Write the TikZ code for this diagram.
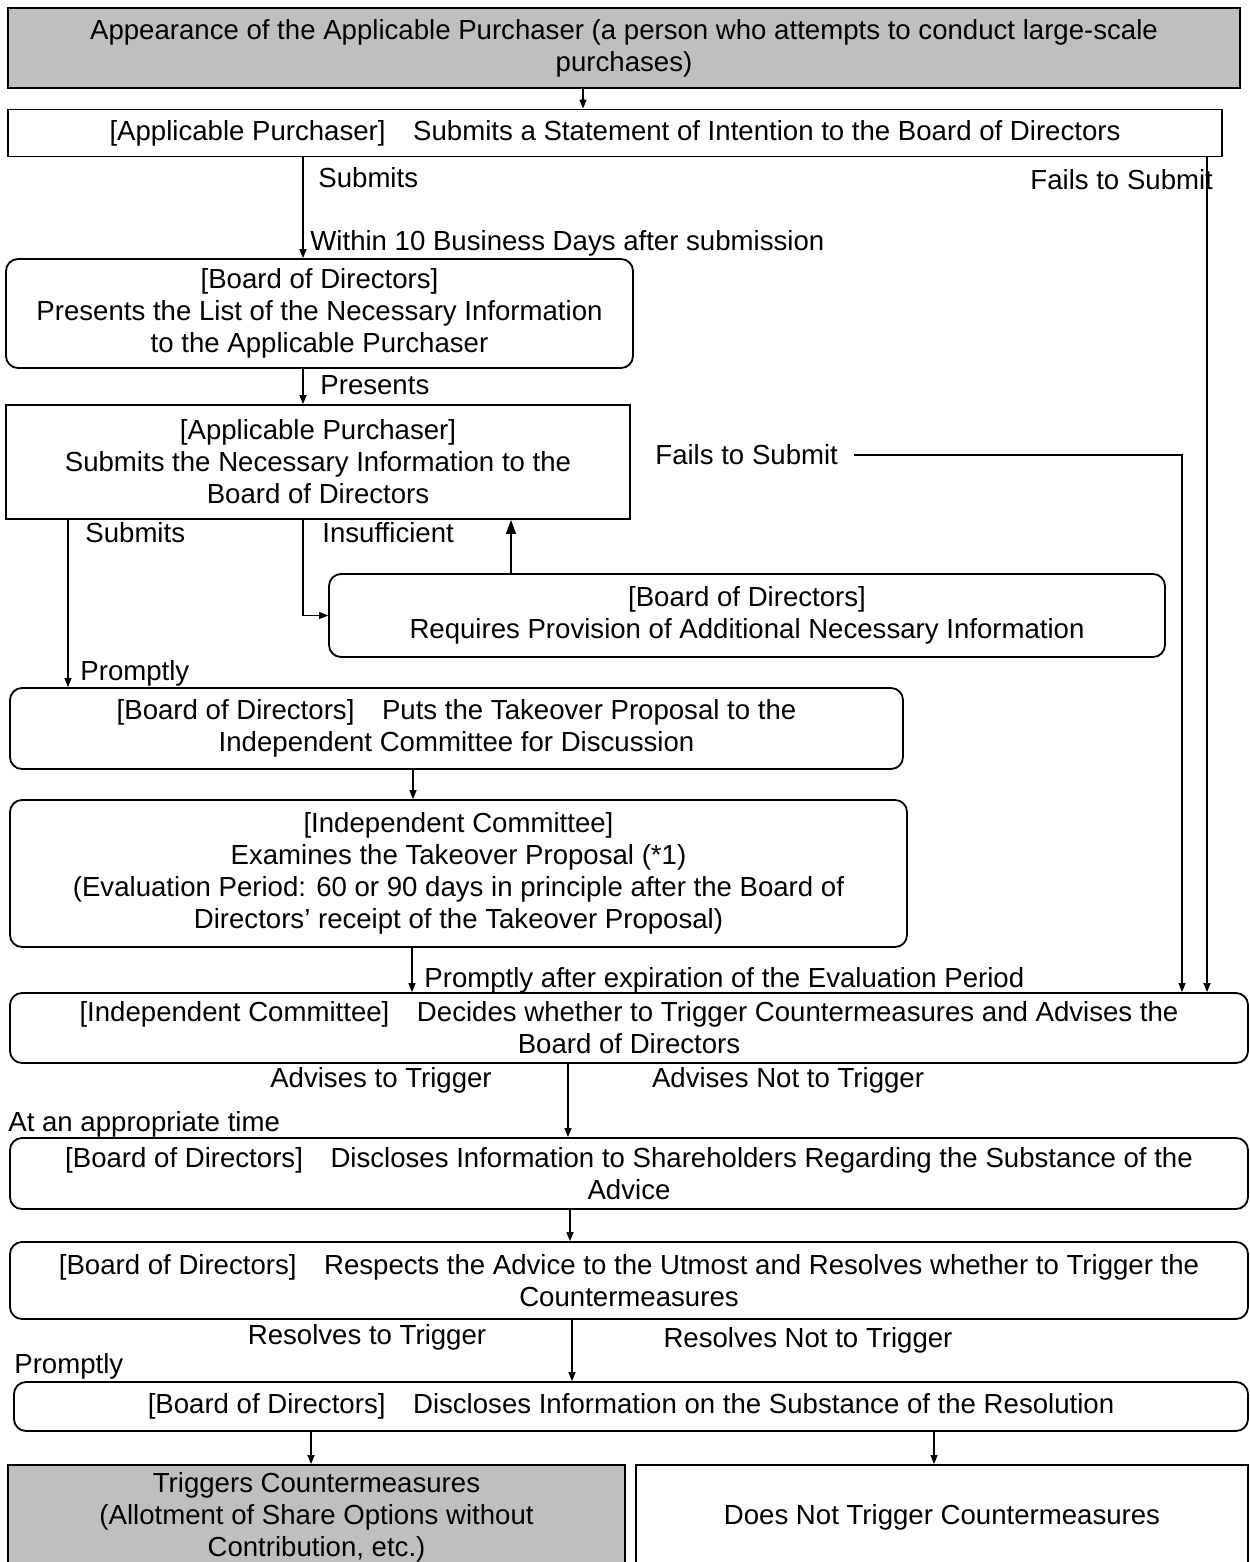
\documentclass[tikz,border=0pt]{standalone}
\usepackage{fontspec}
\setmainfont{Liberation Sans}
\usetikzlibrary{arrows.meta}

\begin{document}
\begin{tikzpicture}[x=0.5pt, y=-0.5pt,
    font=\fontsize{13.8}{16}\selectfont,
    every node/.style={align=center, inner sep=2pt},
    box/.style={draw, line width=0.9pt, minimum width=#1},
    rbox/.style={box=#1, rounded corners=6pt},
    shade/.style={fill=gray!50},
    lbl/.style={anchor=west, inner sep=0pt},
    arr/.style={line width=0.7pt, -{Triangle[length=4.5pt, width=3.5pt]}},
    bigarr/.style={line width=0.7pt, -{Triangle[length=7pt, width=5pt]}}]
    \useasboundingbox (0,0) rectangle (1249,1562);

    \node[box=616pt, minimum height=40pt, shade] (appear) at (624,48) {Appearance of the Applicable Purchaser (a person who attempts to conduct large-scale\\purchases)};
    \node[box=607pt, minimum height=23.5pt] (intent) at (615,133) {[Applicable Purchaser]\quad Submits a Statement of Intention to the Board of Directors};
    \node[rbox=313.5pt, minimum height=54.5pt] (listinfo) at (319.5,313.5) {[Board of Directors]\\Presents the List of the Necessary Information\\to the Applicable Purchaser};
    \node[box=312pt, minimum height=57pt] (necinfo) at (318,462) {[Applicable Purchaser]\\Submits the Necessary Information to the\\Board of Directors};
    \node[rbox=418pt, minimum height=41.5pt] (addinfo) at (747,615.5) {[Board of Directors]\\Requires Provision of Additional Necessary Information};
    \node[rbox=446.5pt, minimum height=40.5pt] (puts) at (456.5,728.5) {[Board of Directors]\quad Puts the Takeover Proposal to the\\Independent Committee for Discussion};
    \node[rbox=448.5pt, minimum height=73.5pt] (exam) at (458.5,873.5) {[Independent Committee]\\Examines the Takeover Proposal (*1)\\(Evaluation Period: 60 or 90 days in principle after the Board of\\Directors’ receipt of the Takeover Proposal)};
    \node[rbox=619pt, minimum height=35pt] (decide) at (629,1028) {[Independent Committee]\quad Decides whether to Trigger Countermeasures and Advises the\\Board of Directors};
    \node[rbox=619pt, minimum height=35.5pt] (discl) at (629,1173.5) {[Board of Directors]\quad Discloses Information to Shareholders Regarding the Substance of the\\Advice};
    \node[rbox=619pt, minimum height=38.5pt] (resolve) at (629,1280.5) {[Board of Directors]\quad Respects the Advice to the Utmost and Resolves whether to Trigger the\\Countermeasures};
    \node[rbox=617pt, minimum height=24.5pt] (result) at (631,1406.5) {[Board of Directors]\quad Discloses Information on the Substance of the Resolution};
    \node[box=308.5pt, minimum height=52.5pt, shade] (trig) at (316.5,1517.5) {Triggers Countermeasures\\(Allotment of Share Options without\\Contribution, etc.)};
    \node[box=306pt, minimum height=52.5pt] (notrig) at (942,1517.5) {Does Not Trigger Countermeasures};

    \node[lbl] (sub1) at (318,178) {Submits};
    \node[lbl] (fail1) at (1030,180) {Fails to Submit};
    \node[lbl] (within) at (310,243) {Within 10 Business Days after submission};
    \node[lbl] (pres) at (320,385) {Presents};
    \node[lbl] (fail2) at (655,455) {Fails to Submit};
    \node[lbl] (sub2) at (85,533) {Submits};
    \node[lbl] (insuf) at (322,533) {Insufficient};
    \node[lbl] (prompt1) at (80,673) {Promptly};
    \node[lbl] (prompt2) at (424,980) {Promptly after expiration of the Evaluation Period};
    \node[inner sep=0pt] (advyes) at (381,1080) {Advises to Trigger};
    \node[inner sep=0pt] (advno) at (788,1080) {Advises Not to Trigger};
    \node[lbl] (apptime) at (8,1124) {At an appropriate time};
    \node[inner sep=0pt] (resyes) at (367,1337) {Resolves to Trigger};
    \node[inner sep=0pt] (resno) at (808,1340) {Resolves Not to Trigger};
    \node[lbl] (prompt3) at (14,1366) {Promptly};

    \draw[arr] (appear.south -| 583,0) -- (intent.north -| 583,0);
    \draw[arr] (intent.south -| 303,0) -- (listinfo.north -| 303,0);
    \draw[arr] (intent.south -| 1207,0) -- (decide.north -| 1207,0);
    \draw[arr] (listinfo.south -| 303,0) -- (necinfo.north -| 303,0);
    \draw[arr] (necinfo.south -| 303,0) |- (addinfo.west);
    \draw[bigarr] (addinfo.north -| 511,0) -- (necinfo.south -| 511,0);
    \draw[arr] ([xshift=8pt]fail2.east) -| (decide.north -| 1182,0);
    \draw[arr] (necinfo.south -| 68,0) -- (puts.north -| 68,0);
    \draw[arr] (puts.south -| 413,0) -- (exam.north -| 413,0);
    \draw[arr] (exam.south -| 412,0) -- (decide.north -| 412,0);
    \draw[arr] (decide.south -| 568,0) -- (discl.north -| 568,0);
    \draw[arr] (discl.south -| 570,0) -- (resolve.north -| 570,0);
    \draw[arr] (resolve.south -| 572,0) -- (result.north -| 572,0);
    \draw[arr] (result.south -| 311,0) -- (trig.north -| 311,0);
    \draw[arr] (result.south -| 934,0) -- (notrig.north -| 934,0);
\end{tikzpicture}
\end{document}
